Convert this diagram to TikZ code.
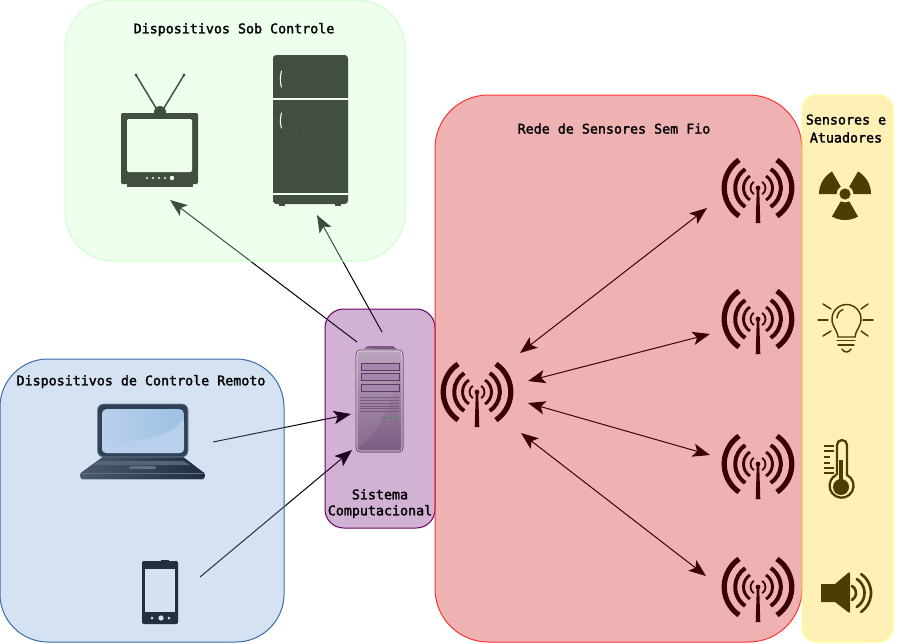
\documentclass[tikz,border=0pt]{standalone}
\usepackage{fontspec}
\setmonofont{DejaVu Sans Mono}
\usetikzlibrary{arrows.meta}
\definecolor{greenbox}{RGB}{198,255,198}
\definecolor{greenline}{RGB}{204,255,204}
\definecolor{bluebox}{RGB}{115,158,208}
\definecolor{blueline}{RGB}{58,110,165}
\definecolor{purplebox}{RGB}{105,0,112}
\definecolor{purpleline}{RGB}{102,0,102}
\definecolor{redbox}{RGB}{198,0,4}
\definecolor{redline}{RGB}{255,51,51}
\definecolor{yellowbox}{RGB}{255,205,18}
\definecolor{yellowline}{RGB}{255,255,136}
\definecolor{greenicon}{RGB}{10,3,7}
\definecolor{greenmark}{RGB}{22,17,20}
\definecolor{bezel}{RGB}{47,65,86}
\definecolor{bezeledge}{RGB}{120,136,152}
\definecolor{basedark}{RGB}{31,46,64}
\definecolor{baselight}{RGB}{74,90,108}
\definecolor{basekeys}{RGB}{83,101,122}
\definecolor{basepad}{RGB}{98,112,127}
\definecolor{screenlight}{RGB}{184,208,235}
\definecolor{screendeep}{RGB}{158,192,228}
\definecolor{towertop}{RGB}{181,157,185}
\definecolor{towerlow}{RGB}{123,90,130}
\definecolor{towerdark}{RGB}{91,58,99}
\definecolor{towerbay}{RGB}{164,135,170}
\definecolor{towerled}{RGB}{58,154,58}
\begin{document}
\begin{tikzpicture}
  [
    x=0.75pt, y=-0.75pt,
    panel/.style={
       rectangle,
       line width=0.75pt,
       inner sep=0pt,
       outer sep=0pt,
       fill opacity=0.3
    },
    title/.style={
       font=\ttfamily\fontsize{10pt}{12pt}\selectfont\addfontfeature{FakeBold=2},
       align=center,
       inner sep=0pt
    },
    link/.style={
       line width=0.75pt,
       -{Stealth[length=13pt,width=10pt,inset=3pt]}
    },
    duplex/.style={
       line width=0.75pt,
       {Stealth[length=13pt,width=10pt,inset=3pt]}-{Stealth[length=13pt,width=10pt,inset=3pt]}
    }
  ]
  \useasboundingbox (0,0) rectangle (899,643);

  % connector ends
  \coordinate (tvEnd) at (170,200);
  \coordinate (fridgeEnd) at (317,215);
  \coordinate (serverTvOut) at (357,342);
  \coordinate (serverFridgeOut) at (382,332);
  \coordinate (laptopOut) at (213,442);
  \coordinate (serverLaptopIn) at (351,414);
  \coordinate (phoneOut) at (200,577);
  \coordinate (serverPhoneIn) at (352,450);
  \coordinate (hubA) at (520,353);
  \coordinate (hubB) at (528,381);
  \coordinate (hubC) at (528,403);
  \coordinate (hubD) at (521,433);
  \coordinate (leafA) at (707,208);
  \coordinate (leafB) at (710,334);
  \coordinate (leafC) at (710,455);
  \coordinate (leafD) at (706,576);

  \draw [link] (serverTvOut) -- (tvEnd);
  \draw [link] (serverFridgeOut) -- (fridgeEnd);
  \draw [link] (laptopOut) -- (serverLaptopIn);
  \draw [link] (phoneOut) -- (serverPhoneIn);
  \draw [duplex] (hubA) -- (leafA);
  \draw [duplex] (hubB) -- (leafB);
  \draw [duplex] (hubC) -- (leafC);
  \draw [duplex] (hubD) -- (leafD);

  % antennas
  \foreach \px/\py in {477/392, 758/188, 758/319, 758/464, 758/587} {
    \begin{scope}[shift={(\px,\py)}]
      \fill (0,0) circle[radius=2.4];
      \fill (-1.2,0) -- (1.2,0) -- (2.3,35) -- (-2.3,35) -- cycle;
      \foreach \rr/\ww in {33.8/5.2, 22.8/4, 14.5/2.9, 7.5/1.8} {
        \draw [line width=\ww*0.75pt] (124:\rr) arc[start angle=124, end angle=236, radius=\rr];
        \draw [line width=\ww*0.75pt] (-56:\rr) arc[start angle=-56, end angle=56, radius=\rr];
      }
    \end{scope}
  }

  % tv
  \fill [greenicon] (160,112) circle[radius=6];
  \draw [greenicon, line width=1.1pt] (156,108) -- (136,75);
  \draw [greenicon, line width=1.1pt] (164,108) -- (184,75);
  \fill [greenicon] (136,75) circle[radius=1.6];
  \fill [greenicon] (184,75) circle[radius=1.6];
  \fill [greenicon, rounded corners=1pt] (121,113) rectangle (198,184);
  \fill [greenicon] (127,184) rectangle (193,187);
  \fill [white, rounded corners=1pt] (127,119) rectangle (192,172);
  \foreach \bx/\br in {147/1.2, 153/1.2, 159/1.2, 165/1.2, 172/2.2}
    \fill [white] (\bx,178) circle[radius=\br];

  % fridge
  \fill [greenicon, rounded corners=2.5pt] (273,55) rectangle (348,204);
  \fill [greenicon] (279,204) rectangle (285,206);
  \fill [greenicon] (335,204) rectangle (341,206);
  \fill [white] (273,98.2) rectangle (348,100.2);
  \fill [white] (273,193.2) rectangle (348,195.2);
  \draw [white, line width=0.8pt, line cap=round] (281.5,71) .. controls (280,76) and (280,83) .. (281.5,87);
  \draw [white, line width=0.8pt, line cap=round] (281.5,113) .. controls (280,118) and (280,124) .. (281.5,128);
  \node (fridgeMark) at (309,130) [font=\sffamily\fontsize{9.5pt}{10pt}\selectfont, inner sep=0pt, text=greenmark] {colourbox};

  % phone
  \fill [rounded corners=1pt] (142,561) rectangle (178,624);
  \fill (161,560) rectangle (169,562);
  \fill [white] (145,569) rectangle (175,612);
  \foreach \bx/\br in {152/1.5, 161/2.6, 169/1.5}
    \fill [white] (\bx,618) circle[radius=\br];

  % radiation
  \foreach \ang in {60, 180, 300}
    \fill (845,194) ++(\ang:8.5) -- ++(\ang:17.5) arc[start angle=\ang, end angle=\ang+60, radius=26] -- ++(\ang+60:-17.5) arc[start angle=\ang+60, end angle=\ang, radius=8.5] -- cycle;
  \fill (845,194) circle[radius=5.6];

  % bulb
  \begin{scope}[line width=1.1pt, line cap=round]
    \draw (838,337) .. controls (837,329) and (832,327) .. (832,319) arc[start angle=180, end angle=360, radius=14.5] .. controls (861,327) and (856,329) .. (855,337) -- cycle;
    \draw (837,340.5) -- (855,340.5);
    \draw (838,345) -- (854,345);
    \draw (842,349) .. controls (844,353) and (849,353) .. (851,349);
    \draw (837,318) arc[start angle=180, end angle=250, radius=9];
    \draw (818,320) -- (828,320);
    \draw (863,320) -- (873,320);
    \draw (823,304) -- (831,309);
    \draw (868,304) -- (861,309);
    \draw (823,336) -- (831,331);
    \draw (868,336) -- (861,331);
  \end{scope}

  % thermometer
  \draw [line width=1.7pt] (837,475) -- (837,445) arc[start angle=180, end angle=360, radius=5] -- (847,475) arc[start angle=-63, end angle=243, radius=12];
  \fill (841,487) circle[radius=8];
  \fill (839,460) rectangle (843,482);
  \foreach \ty/\tx in {446/834, 451/834, 457/830, 463/830, 468/834, 473/834}
    \draw [line width=1.1pt] (824,\ty) -- (\tx,\ty);

  % speaker
  \fill (821,584) -- (835,584) -- (848,573) .. controls (850,572) and (850,572) .. (850,574) -- (850,611) .. controls (850,613) and (850,613) .. (848,612) -- (835,602) -- (821,602) -- cycle;
  \begin{scope}[line width=2pt, line cap=round]
    \draw (848,593) ++(-60:8) arc[start angle=-60, end angle=60, radius=8];
    \draw (848,593) ++(-58:16.5) arc[start angle=-58, end angle=58, radius=16.5];
    \draw (848,593) ++(-55:23) arc[start angle=-55, end angle=55, radius=23];
  \end{scope}

  % panels over the drawings
  \node (panelControl) at (235,130.5) [panel, draw=greenline, fill=greenbox,
     minimum width=255pt, minimum height=195.75pt, rounded corners=36pt] {};
  \node (panelRemote) at (142,500.5) [panel, draw=blueline, fill=bluebox,
     minimum width=213pt, minimum height=212.25pt, rounded corners=36pt] {};
  \node (panelSystem) at (380,418.5) [panel, draw=purpleline, fill=purplebox,
     minimum width=82.5pt, minimum height=164.25pt, rounded corners=14pt] {};
  \node (panelNet) at (618.5,368.5) [panel, draw=redline, fill=redbox,
     minimum width=275.25pt, minimum height=410.25pt, rounded corners=40pt] {};
  \node (panelSense) at (847.5,368.5) [panel, draw=yellowline, fill=yellowbox,
     minimum width=68.25pt, minimum height=410.25pt, rounded corners=11pt] {};

  % laptop
  \fill [left color=baselight, right color=basedark]
     (103,457) -- (183,457) -- (204,473) -- (205,476) -- (203,479) -- (82,479) -- (80,476) -- (81,473) -- cycle;
  \draw [basepad, line width=0.5pt] (82,473.5) -- (203,473.5);
  \fill [basekeys] (98,461) -- (183,461) -- (190,465) -- (93,465) -- cycle;
  \fill [basepad] (130,466) -- (155,466) -- (156,469) -- (129,469) -- cycle;
  \fill [bezel, draw=bezeledge, line width=0.5pt, rounded corners=4.5pt] (97.5,404) rectangle (188,457);
  \fill [left color=screenlight, right color=screendeep, rounded corners=3.5pt] (102,409) rectangle (184,453);
  \fill [screenlight, rounded corners=3pt] (102,441) .. controls (135,443) and (170,438) .. (184,418) -- (184,453) -- (102,453) -- cycle;

  % server
  \fill [top color=towertop, bottom color=towerlow, rounded corners=3pt,
     draw=towerdark, line width=0.4pt] (356,350) rectangle (403,452);
  \draw [white!85!towertop, line width=0.4pt, rounded corners=2.5pt] (357,351) rectangle (402,451);
  \fill [white, opacity=0.08] (357,448) .. controls (378,436) and (395,400) .. (402,352) -- (358,352) -- cycle;
  \fill [towerlow] (364,348.5) -- (368,346) -- (393,346) -- (397,349.5) -- cycle;
  \foreach \dy in {363, 373, 384}
    \draw [fill=towerbay, draw=towerdark, line width=0.5pt] (361,\dy) rectangle (399,\dy+7);
  \foreach \vy in {397, 400, 403, 406, 408.5, 411}
    \draw [towerlow, line width=0.5pt] (360,\vy) -- (399,\vy);
  \foreach \lx in {384, 390, 396}
    \fill [towerled] (\lx,418) circle[radius=1.3];

  % labels
  \node (titleControl) at (234,29.6) [title] {Dispositivos Sob Controle};
  \node (titleRemote) at (141,381.6) [title] {Dispositivos de Controle Remoto};
  \node (titleSystem) at (380,503.6) [title] {Sistema\\Computacional};
  \node (titleNet) at (614,128.6) [title] {Rede de Sensores Sem Fio};
  \node (titleSense) at (846,128.6) [title] {Sensores e\\[1.5pt]Atuadores};
\end{tikzpicture}
\end{document}
